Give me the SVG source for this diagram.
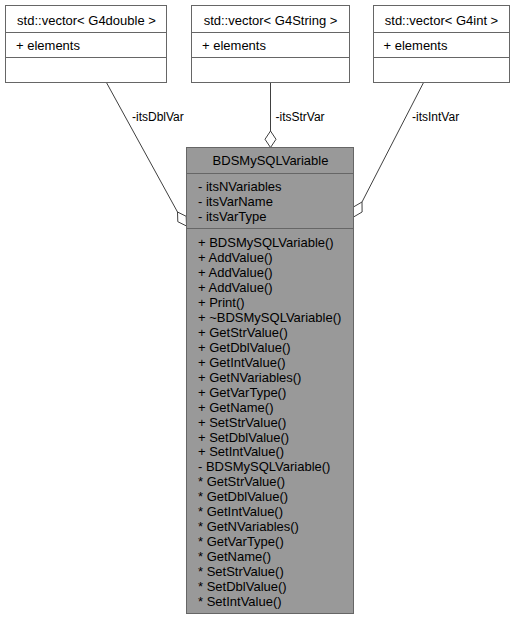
<svg xmlns="http://www.w3.org/2000/svg" width="517" height="620" viewBox="0 0 517 620">
<style>
text{font-family:"Liberation Sans",Arial,Helvetica,sans-serif;font-size:13px;fill:#000}
.c{text-anchor:middle}
.lbl{font-size:12px}
.box{fill:#fff;stroke:#666;stroke-width:1}
.main{fill:#999;stroke:#666;stroke-width:1}
.div{stroke:#666;stroke-width:1}
.edge{stroke:#404040;stroke-width:1;fill:none}
.dia{fill:#fff;stroke:#404040;stroke-width:1}
</style>
<rect width="517" height="620" fill="#fff"/>
<g id="edges">
<path class="edge" d="M106.7,83 L177.5,212"/>
<polygon class="dia" points="186.5,226 177.8,221.7 177.5,212 186.2,216.3"/>
<path class="edge" d="M270.5,83 L270.5,131"/>
<polygon class="dia" points="270.5,147.5 265,139.25 270.5,131 276,139.25"/>
<path class="edge" d="M423.3,83 L362,202"/>
<polygon class="dia" points="353.5,217 353.4,207 362,202 362.1,212"/>
<text class="lbl" x="132" y="121">-itsDblVar</text>
<text class="lbl" x="275.5" y="121">-itsStrVar</text>
<text class="lbl" x="412" y="121">-itsIntVar</text>
</g>
<g id="node_dbl">
<rect class="box" x="5.5" y="5.5" width="161" height="77"/>
<line class="div" x1="5.5" y1="32.5" x2="166.5" y2="32.5"/>
<line class="div" x1="5.5" y1="57.5" x2="166.5" y2="57.5"/>
<text class="c" x="86.5" y="24.5">std::vector&lt; G4double &gt;</text>
<text x="16" y="49.5">+ elements</text>
</g>
<g id="node_str">
<rect class="box" x="191.5" y="5.5" width="158" height="77"/>
<line class="div" x1="191.5" y1="32.5" x2="349.5" y2="32.5"/>
<line class="div" x1="191.5" y1="57.5" x2="349.5" y2="57.5"/>
<text class="c" x="270.5" y="24.5">std::vector&lt; G4String &gt;</text>
<text x="202" y="49.5">+ elements</text>
</g>
<g id="node_int">
<rect class="box" x="373.5" y="5.5" width="136" height="77"/>
<line class="div" x1="373.5" y1="32.5" x2="509.5" y2="32.5"/>
<line class="div" x1="373.5" y1="57.5" x2="509.5" y2="57.5"/>
<text class="c" x="441.5" y="24.5">std::vector&lt; G4int &gt;</text>
<text x="383.5" y="49.5">+ elements</text>
</g>
<g id="node_main">
<rect class="main" x="186.5" y="147.5" width="167" height="466"/>
<line class="div" x1="186.5" y1="173.5" x2="353.5" y2="173.5"/>
<line class="div" x1="186.5" y1="228.5" x2="353.5" y2="228.5"/>
<text class="c" x="270.5" y="165">BDSMySQLVariable</text>
<text x="198" y="190.5">- itsNVariables</text>
<text x="198" y="205.5">- itsVarName</text>
<text x="198" y="220.5">- itsVarType</text>
<text x="198" y="247">+ BDSMySQLVariable()</text>
<text x="198" y="262">+ AddValue()</text>
<text x="198" y="276.9">+ AddValue()</text>
<text x="198" y="291.9">+ AddValue()</text>
<text x="198" y="306.8">+ Print()</text>
<text x="198" y="321.8">+ ~BDSMySQLVariable()</text>
<text x="198" y="336.8">+ GetStrValue()</text>
<text x="198" y="351.7">+ GetDblValue()</text>
<text x="198" y="366.7">+ GetIntValue()</text>
<text x="198" y="381.6">+ GetNVariables()</text>
<text x="198" y="396.6">+ GetVarType()</text>
<text x="198" y="411.6">+ GetName()</text>
<text x="198" y="426.5">+ SetStrValue()</text>
<text x="198" y="441.5">+ SetDblValue()</text>
<text x="198" y="456.4">+ SetIntValue()</text>
<text x="198" y="471.4">- BDSMySQLVariable()</text>
<text x="198" y="486.4">* GetStrValue()</text>
<text x="198" y="501.3">* GetDblValue()</text>
<text x="198" y="516.3">* GetIntValue()</text>
<text x="198" y="531.2">* GetNVariables()</text>
<text x="198" y="546.2">* GetVarType()</text>
<text x="198" y="561.2">* GetName()</text>
<text x="198" y="576.1">* SetStrValue()</text>
<text x="198" y="591.1">* SetDblValue()</text>
<text x="198" y="606">* SetIntValue()</text>
</g>
</svg>
